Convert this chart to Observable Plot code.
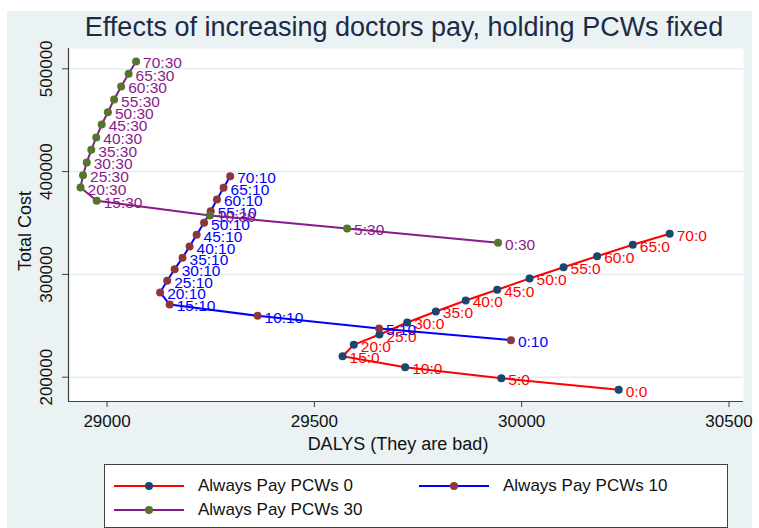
<!DOCTYPE html>
<html>
<head>
<meta charset="utf-8">
<script src="https://cdn.jsdelivr.net/npm/d3@7"></script>
<script src="https://cdn.jsdelivr.net/npm/@observablehq/plot@0.6"></script>
<style>
  body { margin: 0; background: #fff; font-family: "Liberation Sans", Arial, sans-serif; }
  #wrap { position: relative; width: 759px; height: 528px; overflow: hidden; background: #fff; }
  #panel { position: absolute; left: 7px; top: 11px; width: 745px; height: 517px; background: #eaf2f3; }
  #title { position: absolute; left: 0; top: 12px; width: 808px; text-align: center; font-size: 27px; color: #1c2a48; white-space: nowrap; }
  #chart { position: absolute; left: 7px; top: 44px; }
  #ytitle { position: absolute; left: 25px; top: 231px; transform: translate(-50%, -50%) rotate(-90deg); font-size: 18px; color: #111; white-space: nowrap; }
  #xtitle { position: absolute; left: 398px; top: 444px; transform: translate(-50%, -50%); font-size: 18px; color: #111; white-space: nowrap; }
  #legend { position: absolute; left: 104px; top: 464px; width: 622px; height: 62px; background: #fff; border: 1px solid #404040; }
  .item { position: absolute; height: 20px; display: flex; align-items: center; font-size: 17px; color: #111; white-space: nowrap; }
  .item svg { margin-right: 13px; }
</style>
</head>
<body>
<div id="wrap">
  <div id="panel"></div>
  <div id="title">Effects of increasing doctors pay, holding PCWs fixed</div>
  <div id="chart"></div>
  <div id="ytitle">Total Cost</div>
  <div id="xtitle">DALYS (They are bad)</div>
  <div id="legend"></div>
</div>
<script>
// ---- data ----
const pay = [0, 5, 10, 15, 20, 25, 30, 35, 40, 45, 50, 55, 60, 65, 70];
const pcwLevels = [0, 10, 30];
const seriesNames = ["Always Pay PCWs 0", "Always Pay PCWs 10", "Always Pay PCWs 30"];

const dalys0 = [30234, 29951, 29719, 29568, 29595, 29657, 29724, 29793, 29865, 29941, 30019, 30101, 30182, 30268, 30357];
const cost0  = [187700, 199000, 209700, 220400, 231500, 241500, 253200, 263900, 274600, 285000, 296000, 307000, 317700, 328800, 339500];

const dalys10 = [29974, 29656, 29363, 29151, 29128, 29145, 29163, 29182, 29199, 29216, 29234, 29250, 29265, 29281, 29297];
const cost10  = [236000, 247400, 259700, 270700, 282400, 293800, 305100, 316200, 327100, 338500, 350200, 361500, 372900, 384200, 395500];

const dalys30 = [29943, 29579, 29248, 28975, 28936, 28942, 28951, 28962, 28974, 28987, 29002, 29017, 29034, 29052, 29070];
const cost30  = [330700, 344700, 357300, 371600, 384500, 396500, 408900, 421200, 433200, 445800, 457800, 470100, 482800, 495100, 507100];

const xTicks = [29000, 29500, 30000, 30500];
const yTicks = [200000, 300000, 400000, 500000];

// ---- styles ----
const lineColors = ["#ff0000", "#0000ff", "#8a1a8a"];
const markerColors = ["#1a476f", "#90353b", "#55752f"];

const dalys = [dalys0, dalys10, dalys30];
const costs = [cost0, cost10, cost30];
const series = pcwLevels.map((pcw, s) =>
  pay.map((p, i) => ({x: dalys[s][i], y: costs[s][i], label: `${p}:${pcw}`}))
);

const xDomain = [28907, 30535];
const yDomain = [176360, 519750];

const marks = [
  Plot.frame({fill: "white", stroke: null}),
  Plot.gridY({ticks: yTicks, stroke: "#e3edf0", strokeOpacity: 1, strokeWidth: 1.5}),
  Plot.ruleX([xDomain[0]], {stroke: "#404040", strokeWidth: 1.2}),
  Plot.ruleY([yDomain[0]], {stroke: "#404040", strokeWidth: 1.2}),
  Plot.axisX({ticks: xTicks, tickSize: 6, tickPadding: 7, fontSize: 17, label: null, stroke: "#404040", fill: "#111", tickFormat: d => String(d)}),
  Plot.axisY({ticks: yTicks, tickSize: 6, tickRotate: -90, tickPadding: 11, fontSize: 17, label: null, stroke: "#404040", fill: "#111", tickFormat: d => String(d)})
];
series.forEach((rows, s) => {
  marks.push(Plot.line(rows, {x: "x", y: "y", stroke: lineColors[s], strokeWidth: 2}));
  marks.push(Plot.dot(rows, {x: "x", y: "y", r: 4, fill: markerColors[s], stroke: null}));
  marks.push(Plot.text(rows, {x: "x", y: "y", text: "label", dx: 7, dy: 2, textAnchor: "start", fill: lineColors[s], fontSize: 15.5}));
});

const chart = Plot.plot({
  width: 745,
  height: 413,
  marginLeft: 61,
  marginRight: 9,
  marginTop: 4,
  marginBottom: 56,
  style: {background: "transparent", fontFamily: "'Liberation Sans', Arial, sans-serif", color: "#111", overflow: "visible"},
  x: {domain: xDomain, label: null},
  y: {domain: yDomain, label: null},
  marks
});
document.getElementById("chart").appendChild(chart);

// ---- legend ----
const legend = document.getElementById("legend");
const pos = [[8, 13], [313, 13], [8, 37]];
seriesNames.forEach((name, s) => {
  const item = document.createElement("div");
  item.className = "item";
  item.style.left = pos[s][0] + "px";
  item.style.top = (pos[s][1] - 2) + "px";
  item.innerHTML = `<svg width="72" height="12"><line x1="1" y1="6" x2="71" y2="6" stroke="${lineColors[s]}" stroke-width="2"/><circle cx="36" cy="6" r="4" fill="${markerColors[s]}"/></svg><span>${name}</span>`;
  legend.appendChild(item);
});
</script>
</body>
</html>
